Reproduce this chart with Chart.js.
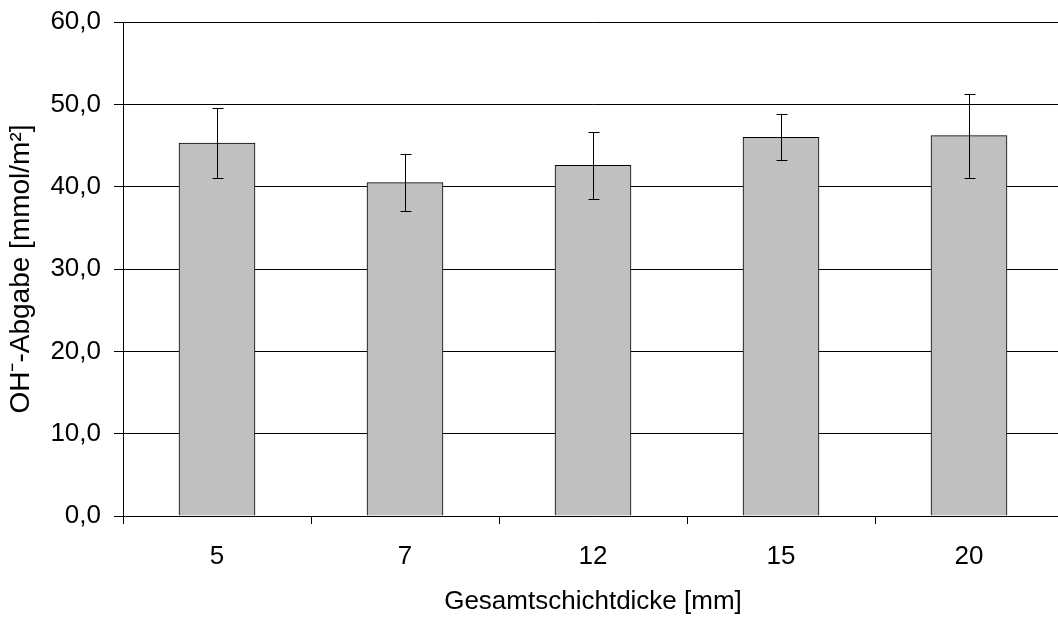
<!DOCTYPE html>
<html>
<head>
<meta charset="utf-8">
<script src="https://cdn.jsdelivr.net/npm/chart.js@4/dist/chart.umd.min.js"></script>
<style>
  html, body { margin: 0; padding: 0; background: #fff; overflow: hidden; }
  #wrap { width: 1068px; height: 617px; }
</style>
</head>
<body>
<div id="wrap"><canvas id="chart" width="1068" height="617"></canvas></div>
<script>
// Gesamtschichtdicke in mm
const thickness = ['5', '7', '12', '15', '20'];
// OH- release in mmol/m² and its standard deviation
const release = [45.3, 40.5, 42.6, 46.0, 46.2];
const deviation = [4.2, 3.5, 4.1, 2.8, 5.1];
const yTicks = [0, 10, 20, 30, 40, 50, 60];

const FONT = 'Liberation Sans, Arial, sans-serif';

// Draws the whisker for each bar from the dataset value +/- deviation
const errorBars = {
  id: 'errorBars',
  afterDatasetsDraw(chart) {
    const { ctx, scales: { y } } = chart;
    const meta = chart.getDatasetMeta(0);
    ctx.save();
    ctx.strokeStyle = '#000';
    ctx.lineWidth = 1;
    meta.data.forEach((bar, i) => {
      const x = Math.round(bar.x) + 0.5;
      const top = Math.round(y.getPixelForValue(release[i] + deviation[i])) + 0.5;
      const bottom = Math.round(y.getPixelForValue(release[i] - deviation[i])) + 0.5;
      ctx.beginPath();
      ctx.moveTo(x, top);
      ctx.lineTo(x, bottom);
      ctx.moveTo(x - 5, top);
      ctx.lineTo(x + 6, top);
      ctx.moveTo(x - 5, bottom);
      ctx.lineTo(x + 6, bottom);
      ctx.stroke();
    });
    ctx.restore();
  }
};

new Chart(document.getElementById('chart'), {
  type: 'bar',
  data: {
    labels: thickness,
    datasets: [{
      data: release,
      backgroundColor: '#c0c0c0',
      borderColor: '#000',
      borderWidth: 1,
      barThickness: 76,
    }],
  },
  options: {
    responsive: false,
    animation: false,
    layout: { padding: { top: 22, right: 5, left: 4, bottom: 0 } },
    plugins: {
      legend: { display: false },
      tooltip: { enabled: false },
    },
    scales: {
      x: {
        grid: { drawOnChartArea: false, drawTicks: true, tickLength: 8, color: '#000', offset: true },
        border: { color: '#000', width: 1 },
        ticks: { color: '#000', font: { family: FONT, size: 26 }, padding: 17, maxRotation: 0 },
        title: {
          display: true,
          text: 'Gesamtschichtdicke [mm]',
          color: '#000',
          font: { family: FONT, size: 26 },
          padding: { top: 6, bottom: 0 },
        },
        afterFit(scale) { scale.height = 101; },
      },
      y: {
        min: 0,
        max: 60,
        afterBuildTicks(scale) { scale.ticks = yTicks.map(v => ({ value: v })); },
        grid: { color: '#000', lineWidth: 1, tickLength: 9 },
        border: { color: '#000', width: 1 },
        ticks: {
          color: '#000',
          font: { family: FONT, size: 26 },
          padding: 13,
          callback: v => v.toFixed(1).replace('.', ','),
        },
        title: {
          display: true,
          text: 'OH⁻-Abgabe [mmol/m²]',
          color: '#000',
          font: { family: FONT, size: 28 },
          padding: { top: 0, bottom: 0 },
        },
        afterFit(scale) {
          scale.width = 119;
          // let the top tick label overhang the plot area
          scale.paddingTop = 0;
          scale.paddingBottom = 0;
        },
      },
    },
  },
  plugins: [errorBars],
});
</script>
</body>
</html>
